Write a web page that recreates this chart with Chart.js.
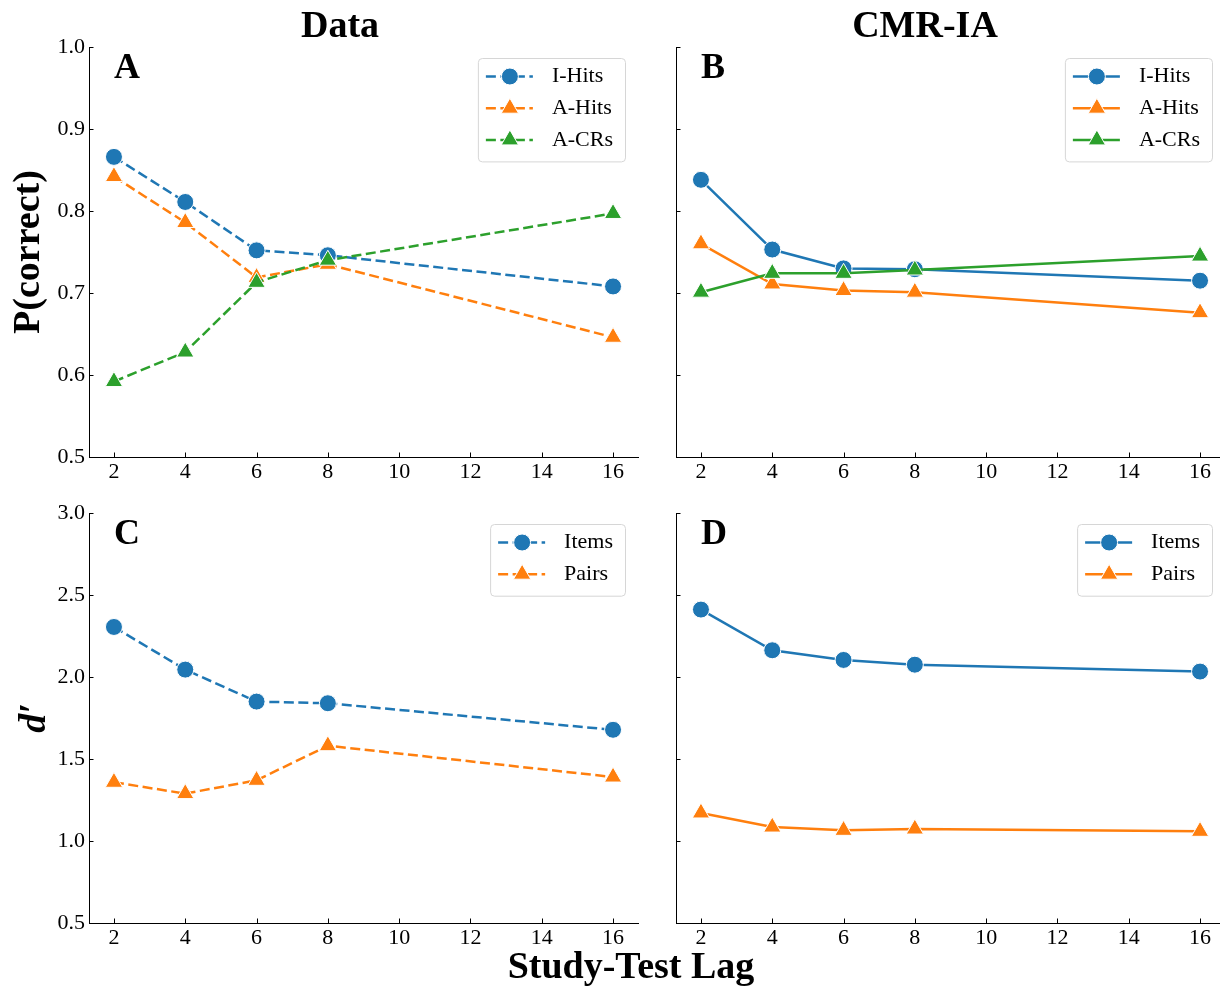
<!DOCTYPE html>
<html>
<head>
<meta charset="utf-8">
<script src="https://cdn.jsdelivr.net/npm/chart.js@4.4.1/dist/chart.umd.min.js"></script>
<style>
  html, body { margin: 0; padding: 0; background: #fff; width: 1220px; height: 990px; overflow: hidden; }
  canvas { position: absolute; }
  #xlabel {
    position: absolute; left: 331px; width: 600px; top: 946px; text-align: center;
    font: bold 38px/38px 'Liberation Serif', 'Times New Roman', serif; color: #000;
  }
</style>
</head>
<body>
<canvas id="chartA" width="640" height="500" style="left:0;top:0"></canvas>
<canvas id="chartB" width="590" height="500" style="left:640px;top:0"></canvas>
<canvas id="chartC" width="640" height="520" style="left:0;top:470px"></canvas>
<canvas id="chartD" width="590" height="520" style="left:640px;top:470px"></canvas>
<div id="xlabel">Study-Test Lag</div>

<script>
// ---- data ----
const lags = [2, 4, 6, 8, 16];
const xTicks = [2, 4, 6, 8, 10, 12, 14, 16];
const pTicks = [0.5, 0.6, 0.7, 0.8, 0.9, 1.0];
const dTicks = [0.5, 1.0, 1.5, 2.0, 2.5, 3.0];

// panel A: behavioural data, P(correct)
const dataIHits = [0.866, 0.811, 0.752, 0.746, 0.708];
const dataAHits = [0.842, 0.786, 0.719, 0.735, 0.646];
const dataACRs  = [0.592, 0.628, 0.713, 0.740, 0.797];
// panel B: CMR-IA, P(correct)
const modelIHits = [0.838, 0.753, 0.730, 0.729, 0.715];
const modelAHits = [0.760, 0.711, 0.703, 0.701, 0.676];
const modelACRs  = [0.701, 0.724, 0.724, 0.728, 0.745];
// panel C: behavioural data, d'
const dataItems = [2.305, 2.045, 1.850, 1.840, 1.678];
const dataPairs = [1.358, 1.289, 1.370, 1.581, 1.390];
// panel D: CMR-IA, d'
const modelItems = [2.411, 2.163, 2.104, 2.075, 2.033];
const modelPairs = [1.171, 1.085, 1.065, 1.073, 1.059];

const BLUE = '#1f77b4', ORANGE = '#ff7f0e', GREEN = '#2ca02c';
const FONT = "'Liberation Serif', 'Times New Roman', serif";

Chart.defaults.font.family = FONT;
Chart.defaults.color = '#000';

function series(label, values, color, marker, dashed, idx) {
  const r = marker === 'triangle' ? 10 : 8.5;
  return {
    label: label,
    data: lags.map((x, i) => ({ x: x, y: values[i] })),
    borderColor: color,
    backgroundColor: color,
    borderWidth: 2.5,
    borderDash: dashed ? [10, 4.5] : [],
    pointStyle: marker,
    pointRadius: r,
    pointHoverRadius: r,
    pointBackgroundColor: color,
    pointBorderColor: '#fff',
    pointBorderWidth: 1,
    tension: 0,
    order: 10 - idx // later series drawn on top, like matplotlib
  };
}

// inward ticks, panel letter, column heading and a matplotlib-style legend
const decorPlugin = {
  id: 'decor',
  afterDraw(chart, args, opts) {
    const { ctx, chartArea: a, scales: { x, y } } = chart;
    ctx.save();

    ctx.strokeStyle = '#000';
    ctx.lineWidth = 1;
    ctx.beginPath();
    x.ticks.forEach(t => {
      const px = Math.round(x.getPixelForValue(t.value)) + 0.5;
      ctx.moveTo(px, a.bottom);
      ctx.lineTo(px, a.bottom - 4.5);
    });
    y.ticks.forEach(t => {
      const py = Math.round(y.getPixelForValue(t.value)) + 0.5;
      ctx.moveTo(a.left, py);
      ctx.lineTo(a.left + 4.5, py);
    });
    ctx.stroke();

    ctx.fillStyle = '#000';
    ctx.textAlign = 'left';
    ctx.textBaseline = 'alphabetic';
    ctx.font = 'bold 36px ' + FONT;
    ctx.fillText(opts.letter, a.left + 25, a.top + 31);

    if (opts.heading) {
      ctx.font = 'bold 38px ' + FONT;
      ctx.textAlign = 'center';
      ctx.fillText(opts.heading, opts.headingX, 37);
    }

    // legend box
    const items = chart.data.datasets;
    ctx.font = '22px ' + FONT;
    const textW = Math.max(...items.map(d => ctx.measureText(d.label).width));
    const w = 74 + textW + 12;
    const h = 8.3 + 31.7 * items.length;
    const bx = a.right - 13 - w;
    const by = a.top + 11;
    ctx.beginPath();
    if (ctx.roundRect) ctx.roundRect(bx + 0.5, by + 0.5, w, h, 4);
    else ctx.rect(bx + 0.5, by + 0.5, w, h);
    ctx.fillStyle = 'rgba(255,255,255,0.8)';
    ctx.fill();
    ctx.strokeStyle = '#d6d6d6';
    ctx.lineWidth = 1;
    ctx.stroke();

    items.forEach((d, i) => {
      const cy = by + 18.5 + i * 31.7;
      ctx.strokeStyle = d.borderColor;
      ctx.lineWidth = 2.5;
      ctx.setLineDash(d.borderDash);
      ctx.beginPath();
      ctx.moveTo(bx + 8, cy);
      ctx.lineTo(bx + 55, cy);
      ctx.stroke();
      ctx.setLineDash([]);

      ctx.fillStyle = d.pointBackgroundColor;
      ctx.strokeStyle = '#fff';
      ctx.lineWidth = 1;
      Chart.helpers.drawPoint(ctx, {
        pointStyle: d.pointStyle, radius: d.pointRadius, rotation: 0, borderWidth: 1
      }, bx + 32, cy);

      ctx.fillStyle = '#000';
      ctx.textAlign = 'left';
      ctx.textBaseline = 'middle';
      ctx.font = '22px ' + FONT;
      ctx.fillText(d.label, bx + 74, cy);
    });

    ctx.restore();
  }
};

function makePanel(id, p) {
  return new Chart(document.getElementById(id), {
    type: 'line',
    data: { datasets: p.datasets },
    plugins: [decorPlugin],
    options: {
      responsive: false,
      animation: false,
      events: [],
      layout: {
        autoPadding: false,
        padding: { left: 0, top: p.padTop, right: p.padRight, bottom: 0 }
      },
      plugins: {
        legend: { display: false },
        tooltip: { enabled: false },
        decor: { letter: p.letter, heading: p.heading, headingX: p.headingX }
      },
      scales: {
        x: {
          type: 'linear',
          min: 1.3,
          max: 16.7,
          bounds: 'data',
          afterBuildTicks: s => { s.ticks = xTicks.map(v => ({ value: v })); },
          afterFit: s => { s.height = p.xHeight; s.paddingLeft = 0; s.paddingRight = 0; },
          grid: { display: false, drawTicks: false },
          border: { display: true, color: '#000', width: 1 },
          ticks: {
            autoSkip: false, maxRotation: 0, padding: 2,
            font: { size: 22 }, color: '#000',
            callback: v => String(v)
          }
        },
        y: {
          type: 'linear',
          min: p.yTicks[0],
          max: p.yTicks[p.yTicks.length - 1],
          bounds: 'data',
          afterBuildTicks: s => { s.ticks = p.yTicks.map(v => ({ value: v })); },
          afterFit: s => { s.width = p.yWidth; s.paddingTop = 0; s.paddingBottom = 0; },
          grid: { display: false, drawTicks: false },
          border: { display: true, color: '#000', width: 1 },
          ticks: {
            display: p.showYLabels, padding: 4,
            font: { size: 22 }, color: '#000',
            callback: v => Number(v).toFixed(1)
          },
          title: {
            display: !!p.yTitle,
            text: p.yTitle || '',
            color: '#000',
            font: { size: 38, weight: 'bold', style: p.yItalic ? 'italic' : 'normal' },
            padding: { top: p.yTitlePad || 0, bottom: 0 }
          }
        }
      }
    }
  });
}

makePanel('chartA', {
  datasets: [
    series('I-Hits', dataIHits, BLUE, 'circle', true, 0),
    series('A-Hits', dataAHits, ORANGE, 'triangle', true, 1),
    series('A-CRs', dataACRs, GREEN, 'triangle', true, 2)
  ],
  yTicks: pTicks, showYLabels: true, yTitle: 'P(correct)', yTitlePad: 6,
  padTop: 47, padRight: 2, yWidth: 89, xHeight: 43,
  letter: 'A', heading: 'Data', headingX: 340
});

makePanel('chartB', {
  datasets: [
    series('I-Hits', modelIHits, BLUE, 'circle', false, 0),
    series('A-Hits', modelAHits, ORANGE, 'triangle', false, 1),
    series('A-CRs', modelACRs, GREEN, 'triangle', false, 2)
  ],
  yTicks: pTicks, showYLabels: false,
  padTop: 47, padRight: 5, yWidth: 36, xHeight: 43,
  letter: 'B', heading: 'CMR-IA', headingX: 285
});

makePanel('chartC', {
  datasets: [
    series('Items', dataItems, BLUE, 'circle', true, 0),
    series('Pairs', dataPairs, ORANGE, 'triangle', true, 1)
  ],
  yTicks: dTicks, showYLabels: true, yTitle: 'd\u2032', yItalic: true, yTitlePad: 12,
  padTop: 43, padRight: 2, yWidth: 89, xHeight: 67,
  letter: 'C'
});

makePanel('chartD', {
  datasets: [
    series('Items', modelItems, BLUE, 'circle', false, 0),
    series('Pairs', modelPairs, ORANGE, 'triangle', false, 1)
  ],
  yTicks: dTicks, showYLabels: false,
  padTop: 43, padRight: 5, yWidth: 36, xHeight: 67,
  letter: 'D'
});
</script>
</body>
</html>
